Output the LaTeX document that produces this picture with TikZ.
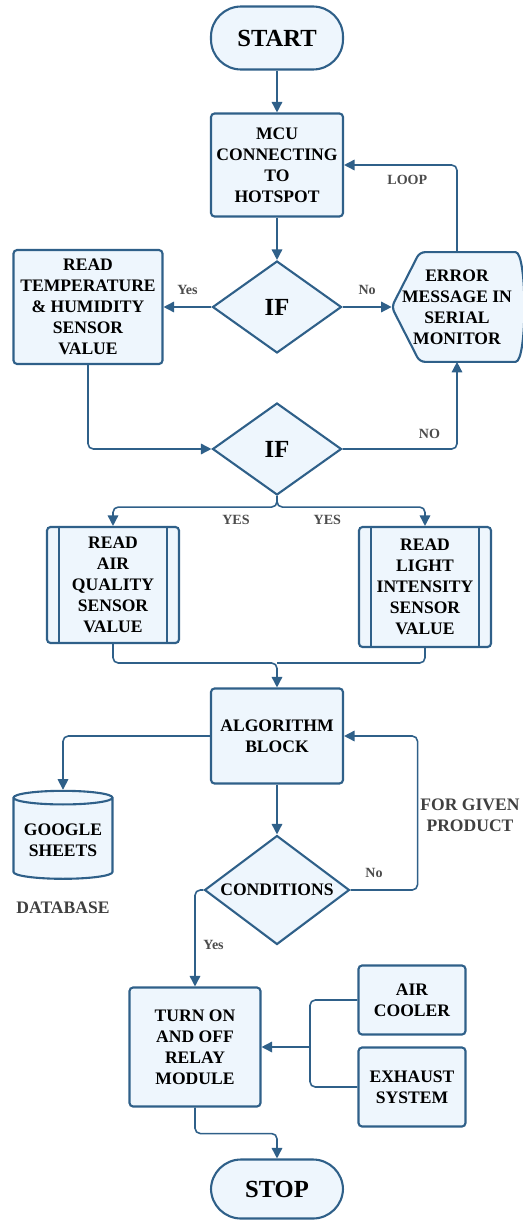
\documentclass[tikz,border=0pt]{standalone}
\usepackage{fontspec}
\setmainfont{Liberation Serif}
\usetikzlibrary{shapes.geometric,arrows.meta,backgrounds}

\definecolor{edge}{HTML}{2F6089}
\definecolor{boxfill}{HTML}{EEF6FD}

\begin{document}
\begin{tikzpicture}[x=0.02cm,y=-0.02cm,
    box/.style={draw=edge, fill=boxfill, line width=1.2pt, rounded corners=2pt,
        align=center, inner sep=2pt, font=\bfseries\fontsize{10}{12}\selectfont},
    terminal/.style={box, rounded corners=0.6cm, minimum width=2.64cm,
        font=\bfseries\fontsize{14}{16}\selectfont},
    decision/.style={diamond, draw=edge, fill=boxfill, line width=1.2pt,
        inner sep=0pt, align=center, font=\bfseries\fontsize{14}{16}\selectfont},
    conn/.style={draw=edge, line width=0.9pt, rounded corners=3pt},
    flow/.style={conn, -{Triangle[length=6pt,width=6pt]}},
    tag/.style={font=\bfseries\fontsize{8}{9}\selectfont, text=black!70}
]
    \useasboundingbox (0,0) rectangle (523,1220);

    % Start
    \node[terminal, minimum height=1.26cm] (start) at (277,38) {START};

    % Hotspot
    \node[box, minimum width=2.64cm, minimum height=2.06cm] (mcu) at (277,165)
        {MCU\\CONNECTING\\TO\\HOTSPOT};

    % First check
    \node[decision, aspect=1.4, minimum width=2.58cm, minimum height=1.84cm] (if1) at (277,307) {IF};
    \node[box, minimum width=2.98cm, minimum height=2.28cm] (temp) at (88,307)
        {READ\\TEMPERATURE\\\& HUMIDITY\\SENSOR\\VALUE};

    % Error message
    \node[align=center, inner sep=0pt, minimum width=2.6cm, minimum height=2.18cm,
        font=\bfseries\fontsize{10}{12}\selectfont] (err) at (457,307)
        {ERROR\\MESSAGE IN\\SERIAL\\MONITOR};
    \begin{scope}[on background layer]
        \draw[draw=edge, fill=boxfill, line width=1.2pt, rounded corners=3pt]
            (err.west) -- ([xshift=0.56cm]err.north west) -- ([xshift=-0.24cm]err.north east)
            .. controls ([xshift=0.1cm]err.north east) and ([xshift=0.1cm]err.south east)
            .. ([xshift=-0.24cm]err.south east) -- ([xshift=0.56cm]err.south west) -- cycle;
    \end{scope}

    % Second check
    \node[decision, aspect=1.4, minimum width=2.58cm, minimum height=1.84cm] (if2) at (277,449) {IF};

    % Sensors
    \node[box, minimum width=2.64cm, minimum height=2.32cm] (air) at (113,585)
        {READ\\AIR\\QUALITY\\SENSOR\\VALUE};
    \node[box, minimum width=2.64cm, minimum height=2.4cm] (light) at (425,587)
        {READ\\LIGHT\\INTENSITY\\SENSOR\\VALUE};
    \foreach \n in {air,light} {
        \draw[draw=edge, line width=1.2pt] ([xshift=0.26cm]\n.north west) -- ([xshift=0.26cm]\n.south west);
        \draw[draw=edge, line width=1.2pt] ([xshift=-0.26cm]\n.north east) -- ([xshift=-0.26cm]\n.south east);
    }

    % Algorithm
    \node[box, minimum width=2.64cm, minimum height=1.9cm] (algo) at (277,736) {ALGORITHM\\BLOCK};

    % Database
    \node[cylinder, shape border rotate=90, aspect=0.16, draw=edge, fill=boxfill, line width=1.2pt,
        minimum width=1.98cm, minimum height=1.76cm, align=center, inner sep=2pt,
        font=\bfseries\fontsize{10}{12}\selectfont] (db) at (63,840) {GOOGLE\\SHEETS};
    \node[font=\bfseries\fontsize{10}{12}\selectfont, text=black!75] (dblabel) at (63,908) {DATABASE};

    % Conditions
    \node[decision, aspect=1.33, minimum width=2.9cm, minimum height=2.18cm,
        font=\bfseries\fontsize{10}{12}\selectfont] (cond) at (277,890) {CONDITIONS};
    \node[align=center, font=\bfseries\fontsize{10}{12}\selectfont, text=black!75] (given) at (470,815)
        {FOR GIVEN\\PRODUCT};

    % Relay and loads
    \node[box, minimum width=2.62cm, minimum height=2.38cm] (relay) at (195,1047)
        {TURN ON\\AND OFF\\RELAY\\MODULE};
    \node[box, minimum width=2.14cm, minimum height=1.38cm] (cooler) at (412,1000) {AIR\\COOLER};
    \node[box, minimum width=2.14cm, minimum height=1.58cm] (exhaust) at (412,1087) {EXHAUST\\SYSTEM};

    % Stop
    \node[terminal, minimum height=1.18cm] (stop) at (277,1189) {STOP};

    % Connectors
    \draw[flow] (start) -- (mcu);
    \draw[flow] (mcu) -- (if1);
    \draw[flow] (if1) -- node[tag, above=3pt] {Yes} (temp);
    \draw[flow] (if1) -- node[tag, above=3pt] {No} (err);
    \draw[flow] (err.north) |- node[tag, pos=0.72, below=2pt] {LOOP} (mcu.east);
    \draw[flow] (temp.south) |- (if2.west);
    \draw[flow] (if2.east) -| node[tag, pos=0.38, above=2pt] {NO} (err.south);
    \draw[flow] (if2.south) -- ++(0,11) -| node[tag, pos=0.125, below=1pt] {YES} (air.north);
    \draw[flow] (if2.south) -- ++(0,11) -| node[tag, pos=0.17, below=1pt] {YES} (light.north);

    \coordinate (merge) at (277,663);
    \draw[conn] (light.south) |- (merge);
    \draw[flow] (air.south) |- (merge) -- (algo.north);

    \draw[flow] (algo.west) -| (db.north);
    \draw[flow] (algo) -- (cond);
    \draw[flow] (cond.east) -- node[tag, pos=0.35, above=3pt] {No} ++(67,0) |- (algo.east);
    \draw[flow] (cond.west) -| node[tag, pos=0.785, right=1pt] {Yes} (relay.north);

    \coordinate (join) at (310,1047);
    \draw[conn] (cooler.west) -| (join);
    \draw[conn] (exhaust.west) -| (join);
    \draw[flow] (join) -- (relay.east);
    \draw[flow] (relay.south) -- ++(0,26) -| (stop.north);

\end{tikzpicture}
\end{document}
